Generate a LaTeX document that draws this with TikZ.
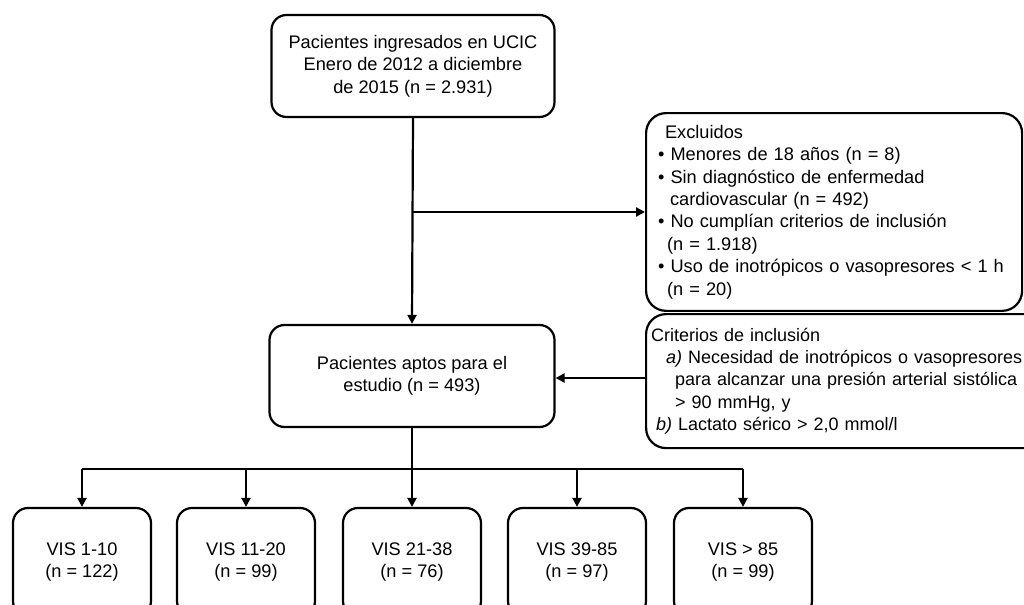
\documentclass[tikz,border=0pt]{standalone}
\usepackage{fontspec}
\setmainfont{Liberation Sans}
\usepackage{tikz}
\usetikzlibrary{arrows.meta}

\begin{document}
\begin{tikzpicture}[x=0.5pt, y=-0.5pt,
    font=\fontsize{9.1}{11.2}\selectfont,
    box/.style={draw, line width=1.1pt, rounded corners=7.5pt, align=center},
    visbox/.style={box, minimum width=69pt, minimum height=54pt},
    arr/.style={line width=1.1pt, -{Triangle[length=4.5pt,width=4.5pt]}},
    link/.style={line width=1.1pt}]
    \useasboundingbox (0,0) rectangle (1024,605);

    % Main flow
    \node[box, minimum width=141.5pt, minimum height=51pt] (ingresados) at (413,66)
        {Pacientes ingresados en UCIC\\Enero de 2012 a diciembre\\de 2015 (n = 2.931)};
    \node[box, minimum width=142.5pt, minimum height=51pt] (aptos) at (412,376)
        {Pacientes aptos para el\\estudio (n = 493)};

    % Side boxes
    \node[box, rounded corners=10pt, anchor=north west, align=left, inner xsep=6pt, inner ysep=6pt,
        minimum width=188pt, minimum height=95pt, text width=176pt] (excluidos) at (645,112)
        {\hspace{3.5pt}Excluidos\\
         • Menores de 18 años (n = 8)\\
         • Sin diagnóstico de enfermedad\\
         \hspace{6pt}cardiovascular (n = 492)\\
         • No cumplían criterios de inclusión\\
         \hspace{4.5pt}(n = 1.918)\\
         • Uso de inotrópicos o vasopresores < 1 h\\
         \hspace{4.5pt}(n = 20)};
    \node[box, rounded corners=10pt, anchor=north west, align=left, inner sep=1.5pt,
        font=\fontsize{9}{11.2}\selectfont,
        minimum width=215pt, minimum height=67pt, text width=210pt] (criterios) at (645,313)
        {Criterios de inclusión\\
         \hspace{7.5pt}\textit{a)} Necesidad de inotrópicos o vasopresores\\
         \hspace{12pt}para alcanzar una presión arterial sistólica\\
         \hspace{12pt}> 90 mmHg, y\\
         \hspace{2.5pt}\textit{b)} Lactato sérico > 2,0 mmol/l};

    % VIS groups
    \node[visbox] (vis1) at (82,562) {VIS 1-10\\(n = 122)};
    \node[visbox] (vis2) at (246,562) {VIS 11-20\\(n = 99)};
    \node[visbox] (vis3) at (412,562) {VIS 21-38\\(n = 76)};
    \node[visbox] (vis4) at (577,562) {VIS 39-85\\(n = 97)};
    \node[visbox] (vis5) at (743,562) {VIS > 85\\(n = 99)};

    % Connectors
    \draw[arr] (ingresados.south) -- (aptos.north);
    \draw[arr] (ingresados.south |- excluidos.west) -- (excluidos.west);
    \draw[arr] (criterios.west |- aptos.east) ++(0,2) coordinate (critin) -- (critin -| aptos.east);
    \coordinate (split) at (412,469);
    \draw[link] (aptos.south) -- (split);
    \draw[link] (vis1.north |- split) -- (vis5.north |- split);
    \foreach \v in {vis1,vis2,vis3,vis4,vis5}
        \draw[arr] (\v.north |- split) -- (\v.north);
\end{tikzpicture}
\end{document}
